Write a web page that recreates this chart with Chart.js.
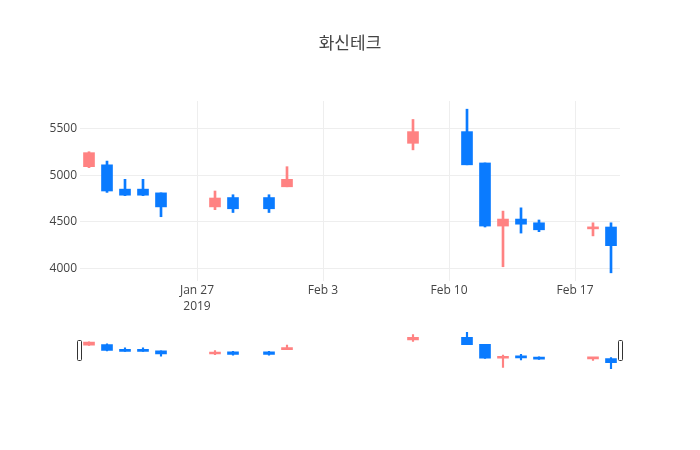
<!DOCTYPE html>
<html><head><meta charset="utf-8">
<script src="https://cdn.jsdelivr.net/npm/chart.js@4/dist/chart.umd.min.js"></script>
<style>
html,body{margin:0;padding:0;background:#fff;}
#wrap{position:relative;width:700px;height:450px;overflow:hidden;}
#main{position:absolute;left:0;top:0;}
#slider{position:absolute;left:0;top:320px;}
</style></head><body>
<div id="wrap">
<canvas id="main" width="700" height="450"></canvas>
<canvas id="slider" width="700" height="60"></canvas>
</div>
<script>
const chartTitle = '화신테크';
const dates = ['2019-01-21','2019-01-22','2019-01-23','2019-01-24','2019-01-25','2019-01-28','2019-01-29','2019-01-31','2019-02-01','2019-02-08','2019-02-11','2019-02-12','2019-02-13','2019-02-14','2019-02-15','2019-02-18','2019-02-19'];
const openP  = [5090,5110,4850,4850,4810,4660,4760,4760,4875,5340,5465,5130,4455,4530,4490,4425,4445];
const highP  = [5250,5150,4955,4955,4810,4830,4790,4790,5090,5595,5705,5130,4615,4650,4520,4490,4490];
const lowP   = [5080,4815,4780,4780,4555,4630,4600,4600,4875,5270,5110,4445,4020,4380,4395,4350,3955];
const closeP = [5240,4830,4785,4785,4660,4755,4640,4640,4955,5465,5110,4455,4530,4475,4415,4440,4245];
const xTickDates = ['2019-01-27','2019-02-03','2019-02-10','2019-02-17'];
const xTickLabels = [['Jan 27','2019'],'Feb 3','Feb 10','Feb 17'];
const yTicks = [4000,4500,5000,5500];

const UP = '#FF8282', DOWN = '#0A7BFF';
const dayOf = s => (Date.parse(s) - Date.parse('2019-01-01')) / 864e5;
const days = dates.map(dayOf);
const xTicks = xTickDates.map(dayOf);
const colorAt = i => closeP[i] >= openP[i] ? UP : DOWN;
const wickData = days.map((x, i) => ({x: x, y: [lowP[i], highP[i]]}));
const bodyData = days.map((x, i) => ({x: x, y: [openP[i], closeP[i]]}));
const yPad = (Math.max(...highP) - Math.min(...lowP)) * 0.05;
const yMin = Math.min(...lowP) - yPad, yMax = Math.max(...highP) + yPad;
const xMin = days[0] - 0.5, xMax = days[days.length - 1] + 0.5;

Chart.defaults.font.family = '"Open Sans", "Noto Sans CJK KR", sans-serif';
Chart.defaults.color = '#444';

function datasets(wickW, bodyW) {
  return [
    {data: wickData, barThickness: wickW, grouped: false, order: 2,
     backgroundColor: c => colorAt(c.dataIndex)},
    {data: bodyData, barThickness: bodyW, grouped: false, order: 1, minBarLength: 2,
     backgroundColor: c => colorAt(c.dataIndex)}
  ];
}

new Chart(document.getElementById('main'), {
  type: 'bar',
  data: {datasets: datasets(2, 11)},
  options: {
    responsive: false, animation: false, devicePixelRatio: 1,
    layout: {padding: {left: 0, right: 0, top: 0, bottom: 129}},
    plugins: {
      legend: {display: false}, tooltip: {enabled: false},
      title: {display: true, text: chartTitle, color: '#444',
        font: {size: 17, weight: 'normal', lineHeight: 1.2},
        padding: {top: 34, bottom: 46.6}}
    },
    scales: {
      x: {type: 'linear', min: xMin, max: xMax, offset: false,
        afterBuildTicks: s => { s.ticks = xTicks.map(v => ({value: v})); },
        afterFit: s => { s.height = 40; },
        grid: {color: '#eee', drawTicks: false, offset: false}, border: {display: false},
        ticks: {autoSkip: false, maxRotation: 0, padding: 1, color: '#444',
          font: {size: 12, lineHeight: 1.375},
          callback: (v, i) => xTickLabels[i]}},
      y: {min: yMin, max: yMax,
        afterBuildTicks: s => { s.ticks = yTicks.map(v => ({value: v})); },
        afterFit: s => { s.width = 80; },
        grid: {color: '#eee', drawTicks: false}, border: {display: false},
        ticks: {padding: 3, color: '#444', font: {size: 12}, callback: v => String(v)}},
      yRight: {position: 'right', min: yMin, max: yMax,
        afterFit: s => { s.width = 80; },
        grid: {display: false}, border: {display: false},
        ticks: {display: false}}
    }
  }
});

const handles = {
  id: 'handles',
  afterDraw(chart) {
    const a = chart.chartArea, ctx = chart.ctx;
    const cy = (a.top + a.bottom) / 2;
    [a.left - 0.5, a.right + 0.5].forEach(cx => {
      ctx.save();
      ctx.beginPath();
      ctx.roundRect(cx - 2, cy - 10, 4, 20, 1);
      ctx.fillStyle = '#fff'; ctx.fill();
      ctx.strokeStyle = '#333'; ctx.lineWidth = 1; ctx.stroke();
      ctx.restore();
    });
  }
};

new Chart(document.getElementById('slider'), {
  type: 'bar',
  data: {datasets: datasets(1.5, 11)},
  options: {
    responsive: false, animation: false, devicePixelRatio: 1,
    layout: {padding: {left: 80, right: 80, top: 10.5, bottom: 9.5}},
    plugins: {legend: {display: false}, tooltip: {enabled: false}},
    scales: {
      x: {type: 'linear', display: false, min: xMin, max: xMax, offset: false},
      y: {display: false, min: yMin, max: yMax}
    }
  },
  plugins: [handles]
});
</script>
</body></html>
